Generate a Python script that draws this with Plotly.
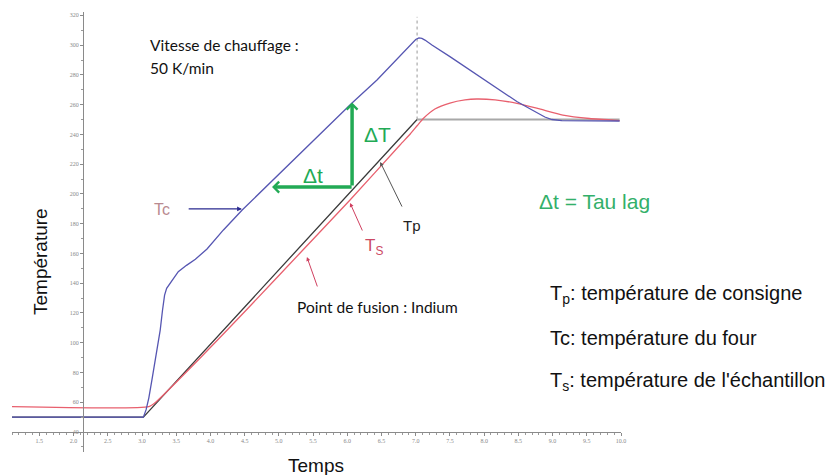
import plotly.graph_objects as go

# ---------------- data (time in min, temperature) ----------------
time_tc = [1.10, 3.02, 3.06, 3.10, 3.145, 3.21, 3.266, 3.30, 3.33, 3.36, 3.41, 3.47, 3.53, 3.65,
           3.78, 3.95, 4.19, 4.464, 4.901, 5.31, 6.069, 6.434, 6.843, 6.96, 7.00, 7.047, 7.09,
           7.135, 7.237, 7.50, 7.938, 8.23, 8.478, 8.741, 8.887, 8.99, 9.135, 9.98]
temp_tc = [50.0, 50.0, 55.0, 63.0, 75.0, 92.0, 108.5, 122.0, 132.0, 136.5, 140.0, 144.0, 147.7, 152.0,
           156.1, 163.0, 175.8, 189.2, 208.7, 226.8, 261.1, 276.6, 296.7, 301.8, 303.8, 304.8, 304.5,
           303.4, 300.1, 292.3, 278.6, 269.8, 262.1, 255.4, 251.7, 250.0, 249.3, 249.0]

time_ts = [1.10, 3.10, 3.20, 3.85, 4.58, 5.31, 6.04, 6.77, 6.92, 7.02, 7.11, 7.28, 7.50, 7.72,
           7.89, 8.16, 8.48, 8.81, 9.15, 9.54, 9.98]
temp_ts = [57.0, 57.0, 60.0, 89.7, 124.7, 160.3, 195.9, 232.9, 240.3, 245.8, 250.7, 257.1, 261.1, 263.2,
           263.8, 263.2, 260.9, 257.1, 253.0, 250.7, 249.3]

time_tp = [1.10, 3.02, 7.02, 9.98]
temp_tp = [50, 50, 250, 250]

x_tickvals = [1.5, 2.0, 2.5, 3.0, 3.5, 4.0, 4.5, 5.0, 5.5, 6.0, 6.5, 7.0, 7.5, 8.0, 8.5, 9.0, 9.5, 10.0]
x_ticktext = ["1.5", "2.0", "2.5", "3.0", "3.5", "4.0", "4.5", "5.0", "5.5", "6.0", "6.5",
              "7.0", "7.5", "8.0", "8.5", "9.0", "9.5", "10.0"]
y_tickvals = [40, 60, 80, 100, 120, 140, 160, 180, 200, 220, 240, 260, 280, 300, 320]
y_ticktext = [str(v) for v in y_tickvals]

# ---------------- figure ----------------
W, H = 827, 475
ML, MR, MT, MB = 12, 206, 12, 23
PW, PH = W - ML - MR, H - MT - MB


def px(x):
    return (x - ML) / PW


def py(y):
    return (H - MB - y) / PH


BLUE = "#5656b2"
RED = "#e8606e"
GREEN = "#22aa55"

fig = go.Figure()

# Tp: ramp (dark) and plateau (light grey)
fig.add_trace(go.Scatter(x=time_tp[:3], y=temp_tp[:3], mode="lines",
                         line=dict(color="#3a3a3a", width=1.3), hoverinfo="skip"))
fig.add_trace(go.Scatter(x=time_tp[2:], y=temp_tp[2:], mode="lines",
                         line=dict(color="#a8a8a8", width=1.8), hoverinfo="skip"))
# dotted marker line at end of ramp
fig.add_trace(go.Scatter(x=[time_tp[2], time_tp[2]], y=[temp_tp[2], 319], mode="lines",
                         line=dict(color="#999999", width=1, dash="dot"), hoverinfo="skip"))
# Ts
fig.add_trace(go.Scatter(x=time_ts, y=temp_ts, mode="lines", line_shape="spline",
                         line=dict(color=RED, width=1.3, smoothing=0.5), hoverinfo="skip"))
# Tc
fig.add_trace(go.Scatter(x=time_tc, y=temp_tc, mode="lines",
                         line=dict(color=BLUE, width=1.3), hoverinfo="skip"))

ann = []


def arrow(x, y, ax, ay, color, width, head=2, size=1.0):
    ann.append(dict(x=x, y=y, ax=ax, ay=ay, xref="x", yref="y", axref="x", ayref="y",
                    text="", showarrow=True, arrowhead=head, arrowsize=size,
                    arrowwidth=width, arrowcolor=color, standoff=0, startstandoff=0))


# green delta arrows
arrow(6.07, 261.5, 6.07, 204.6, GREEN, 3.5, head=4, size=0.6)
arrow(4.90, 204.6, 6.085, 204.6, GREEN, 3.5, head=4, size=0.6)
# label arrows
arrow(4.46, 189.9, 3.66, 189.9, "#2a2a90", 1.2, head=2, size=0.8)
arrow(6.48, 221.5, 6.81, 190.5, "#555555", 1.0, head=2, size=0.8)
arrow(6.04, 193.9, 6.23, 174.4, "#d04060", 1.0, head=2, size=0.8)
arrow(5.41, 157.6, 5.57, 136.8, "#d04060", 1.0, head=2, size=0.8)


def txt(x, y, text, size, color="#111111", family="Liberation Sans", xanchor="center", angle=0):
    ann.append(dict(x=px(x), y=py(y), xref="paper", yref="paper", text=text, showarrow=False,
                    xanchor=xanchor, yanchor="middle", textangle=angle,
                    font=dict(size=size, color=color, family=family)))


txt(148, 45, "Vitesse de chauffage :", 15.5, family="Lato", xanchor="left")
txt(148, 68, "50 K/min", 15.5, family="Lato", xanchor="left")
txt(162, 209, "Tc", 16, color="#b98a90")
txt(377, 134, "ΔT", 21, color=GREEN)
txt(313, 176, "Δt", 21, color=GREEN)
txt(412, 225, "Tp", 15, color="#222222")
txt(363, 247, "T<sub>S</sub>", 17, color="#cc4a64", xanchor="left")
txt(295, 307, "Point de fusion : Indium", 15.5, family="Lato", xanchor="left")
txt(537, 201, "Δt = Tau lag", 21, color="#33b06a", xanchor="left")
txt(548, 294, "T<sub>p</sub>: température de consigne", 20, xanchor="left")
txt(548, 338, "Tc: température du four", 20, xanchor="left")
txt(548, 381, "T<sub>s</sub>: température de l'échantillon", 20, xanchor="left")
txt(316, 465, "Temps", 19)
txt(40, 262, "Température", 19, angle=-90)

x_range = [1.1, 10.0]
y_range = [26.56, 322.26]

fig.update_layout(
    width=W, height=H,
    margin=dict(l=ML, r=MR, t=MT, b=MB),
    paper_bgcolor="white", plot_bgcolor="white",
    showlegend=False,
    font=dict(family="Liberation Sans"),
    annotations=ann,
    xaxis=dict(range=x_range, anchor="free", position=py(432), showgrid=False, zeroline=False,
               showline=True, linecolor="#8a8a8a", linewidth=1,
               tickmode="array", tickvals=x_tickvals, ticktext=x_ticktext,
               ticks="outside", ticklen=3, tickcolor="#8a8a8a",
               minor=dict(dtick=0.1, tick0=1.5, ticks="outside", ticklen=2, tickcolor="#9a9a9a"),
               tickfont=dict(size=6, color="#888888", family="Liberation Serif")),
    yaxis=dict(range=y_range, anchor="free", position=px(83), showgrid=False, zeroline=False,
               showline=True, linecolor="#8a8a8a", linewidth=1,
               tickmode="array", tickvals=y_tickvals, ticktext=y_ticktext,
               ticks="outside", ticklen=3, tickcolor="#8a8a8a",
               minor=dict(dtick=10, tick0=40, ticks="outside", ticklen=2, tickcolor="#9a9a9a"),
               tickfont=dict(size=6, color="#888888", family="Liberation Serif")),
)

fig.write_html("out.html", config={"displayModeBar": False},
               post_script="document.body.style.margin='0';document.body.style.overflow='hidden';")
